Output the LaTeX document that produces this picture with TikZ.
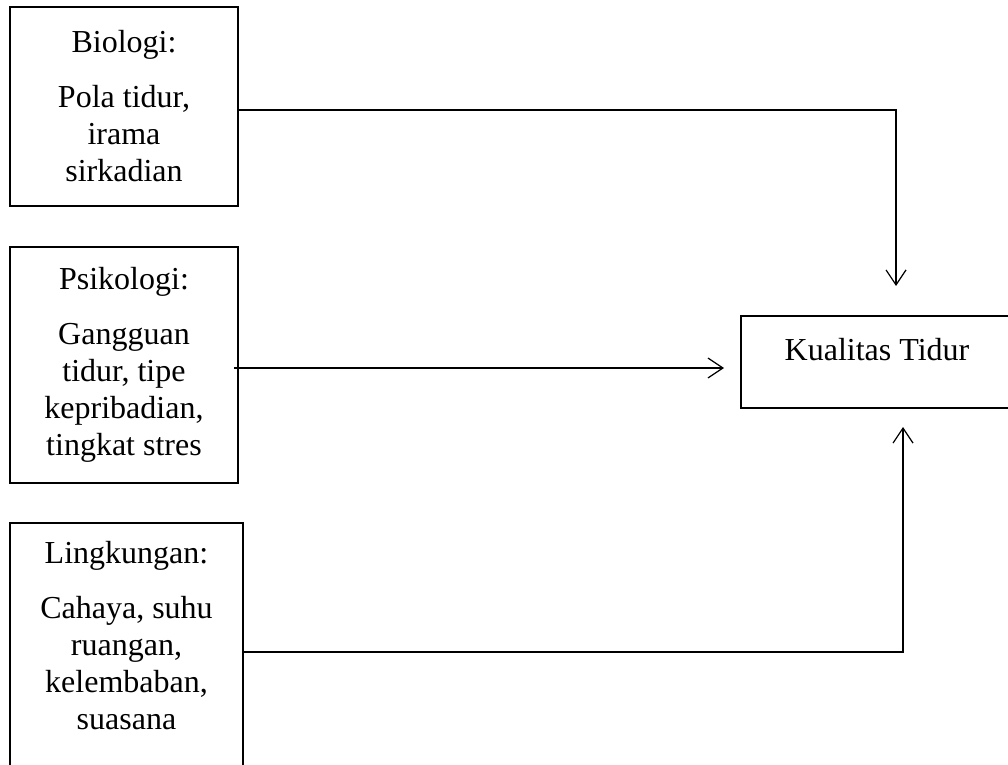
\documentclass[tikz,border=0pt]{standalone}
\usepackage{fontspec}
\setmainfont{Liberation Serif}
\usepackage{tikz}
\usetikzlibrary{arrows.meta, positioning}
\colorlet{boxEdge}{black}
\colorlet{flowLine}{black}
\tikzset{
    factor/.style={draw=boxEdge, line width=1pt, rectangle, inner sep=0pt,
        align=center, font=\fontsize{16}{18.5}\selectfont},
    outcome/.style={draw=boxEdge, line width=1pt, rectangle, inner sep=0pt,
        text height=11pt, text depth=13pt,
        minimum width=136pt, minimum height=46pt,
        font=\fontsize{16}{18.5}\selectfont},
    flow/.style={draw=flowLine, line width=0.6pt,
        -{Straight Barb[length=7.5pt, width=10pt]}}
}

\begin{document}
\begin{tikzpicture}[x=0.5pt, y=-0.5pt]
    % Fix the page to the size of the picture
    \useasboundingbox (0,0) rectangle (1008,765);
    \clip (0,0) rectangle (1008,765);

    % Draw the three factor boxes
    \node[factor, minimum width=114pt, minimum height=99.5pt] (bio) at (124,106.5)
        {Biologi:\\[9pt] Pola tidur,\\ irama\\ sirkadian};
    \node[factor, minimum width=114pt, minimum height=118pt] (psi) at (124,365)
        {Psikologi:\\[9pt] Gangguan\\ tidur, tipe\\ kepribadian,\\ tingkat stres};
    \node[factor, minimum width=116.5pt, minimum height=136pt] (env) at (126.5,659)
        {Lingkungan:\\[9pt] Cahaya, suhu\\ ruangan,\\ kelembaban,\\ suasana\\ \strut};

    % Draw the outcome box
    \node[outcome] (kual) at (877,362) {Kualitas Tidur};

    % Turning points of the connectors
    \coordinate (bioturn) at (896,110);
    \coordinate (envturn) at (903,652);

    % Draw the connectors
    \draw[flow, shorten >=14.5pt] (bio.east |- bioturn) -- (bioturn) -- (bioturn |- kual.north);
    \draw[flow, shorten >=8pt] ([xshift=-2.5pt, yshift=-1.5pt]psi.east)
        -- ([yshift=-1.5pt]psi.east -| kual.west);
    \draw[flow, shorten >=9pt] (env.east |- envturn) -- (envturn) -- (envturn |- kual.south);
\end{tikzpicture}
\end{document}
